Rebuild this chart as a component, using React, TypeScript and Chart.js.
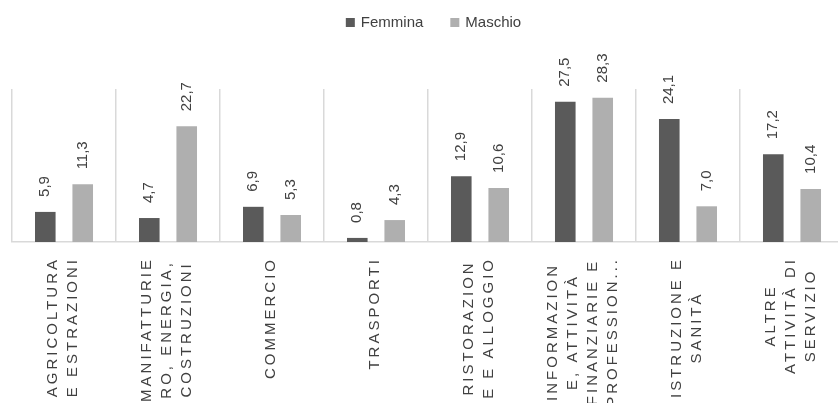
import React, { useEffect, useRef } from "react";
import { Chart, registerables } from "chart.js";

Chart.register(...registerables);

const categories: string[][] = [
  ["AGRICOLTURA", "E ESTRAZIONI"],
  ["MANIFATTURIE", "RO, ENERGIA,", "COSTRUZIONI"],
  ["COMMERCIO"],
  ["TRASPORTI"],
  ["RISTORAZION", "E E ALLOGGIO"],
  ["INFORMAZION", "E, ATTIVITÀ", "FINANZIARIE E", "PROFESSION..."],
  ["ISTRUZIONE E", "SANITÀ"],
  ["ALTRE", "ATTIVITÀ DI", "SERVIZIO"],
];

const seriesNames = ["Femmina", "Maschio"];
const femmina = [5.9, 4.7, 6.9, 0.8, 12.9, 27.5, 24.1, 17.2];
const maschio = [11.3, 22.7, 5.3, 4.3, 10.6, 28.3, 7.0, 10.4];
const seriesColors = ["#5a5a5a", "#afafaf"];

const FONT = '"Liberation Sans", Arial, sans-serif';
const TEXT_COLOR = "#404040";

const fmt = (v: number) => v.toFixed(1).replace(".", ",");

const customPlugin = {
  id: "customLabels",
  afterDatasetsDraw(chart: any) {
    const ctx = chart.ctx as CanvasRenderingContext2D;
    ctx.save();
    // value labels
    ctx.font = `15px ${FONT}`;
    ctx.fillStyle = TEXT_COLOR;
    ctx.textAlign = "left";
    ctx.textBaseline = "middle";
    chart.data.datasets.forEach((ds: any, di: number) => {
      const meta = chart.getDatasetMeta(di);
      meta.data.forEach((bar: any, i: number) => {
        const v = ds.data[i] as number;
        ctx.save();
        ctx.translate(bar.x, bar.y - 15);
        ctx.rotate(-Math.PI / 2);
        ctx.fillText(fmt(v), 0, 0);
        ctx.restore();
      });
    });

    // category labels
    const xs = chart.scales.x;
    ctx.font = `15px ${FONT}`;
    (ctx as any).letterSpacing = "3px";
    const top = chart.chartArea.bottom + 15;
    const lineH = 20;
    categories.forEach((lines, i) => {
      const cx = xs.getPixelForValue(i) - 1;
      const widths = lines.map((l) => ctx.measureText(l).width);
      const maxW = Math.max(...widths);
      const n = lines.length;
      lines.forEach((line, j) => {
        const lx = cx + (j - (n - 1) / 2) * lineH;
        ctx.save();
        ctx.translate(lx, top + maxW / 2);
        ctx.rotate(-Math.PI / 2);
        ctx.textAlign = "center";
        ctx.fillText(line, 0, 0);
        ctx.restore();
      });
    });
    (ctx as any).letterSpacing = "0px";

    // legend
    ctx.font = `15px ${FONT}`;
    ctx.textAlign = "left";
    ctx.textBaseline = "middle";
    const box = 9;
    const gap = 6;
    const itemGap = 27;
    const tw = seriesNames.map((s) => ctx.measureText(s).width);
    const total = tw.reduce((a, w) => a + box + gap + w, 0) + itemGap * (seriesNames.length - 1);
    let x = 433.5 - total / 2;
    const ly = 22.5;
    seriesNames.forEach((s, k) => {
      ctx.fillStyle = seriesColors[k];
      ctx.fillRect(x, ly - box / 2, box, box);
      x += box + gap;
      ctx.fillStyle = TEXT_COLOR;
      ctx.fillText(s, x, ly);
      x += tw[k] + itemGap;
    });
    ctx.restore();
  },
};

export default function App() {
  const ref = useRef<HTMLCanvasElement>(null);
  useEffect(() => {
    if (!ref.current) return;
    const chart = new Chart(ref.current, {
      type: "bar",
      data: {
        labels: categories.map((c) => c.join(" ")),
        datasets: [
          {
            label: seriesNames[0],
            data: femmina,
            backgroundColor: seriesColors[0],
            categoryPercentage: 0.72,
            barPercentage: 0.55,
          },
          {
            label: seriesNames[1],
            data: maschio,
            backgroundColor: seriesColors[1],
            categoryPercentage: 0.72,
            barPercentage: 0.55,
          },
        ],
      },
      options: {
        responsive: false,
        animation: false,
        devicePixelRatio: 1,
        layout: { padding: { left: 12, right: 2, top: 89, bottom: 161 } },
        plugins: {
          legend: { display: false },
          tooltip: { enabled: false },
        },
        scales: {
          x: {
            grid: {
              offset: true,
              color: "#d9d9d9",
              lineWidth: 1.5,
              drawTicks: false,
            },
            border: { display: true, color: "#d9d9d9", width: 1.5 },
            ticks: { display: false },
          },
          y: {
            display: false,
            min: 0,
            max: 30,
          },
        },
      },
      plugins: [customPlugin],
    });
    return () => chart.destroy();
  }, []);
  return (
    <div
      style={{
        position: "fixed",
        left: 0,
        top: 0,
        width: 838,
        height: 403,
        overflow: "hidden",
        background: "#ffffff",
      }}
    >
      <canvas ref={ref} width={846} height={403} style={{ width: 846, height: 403, display: "block" }} />
    </div>
  );
}
